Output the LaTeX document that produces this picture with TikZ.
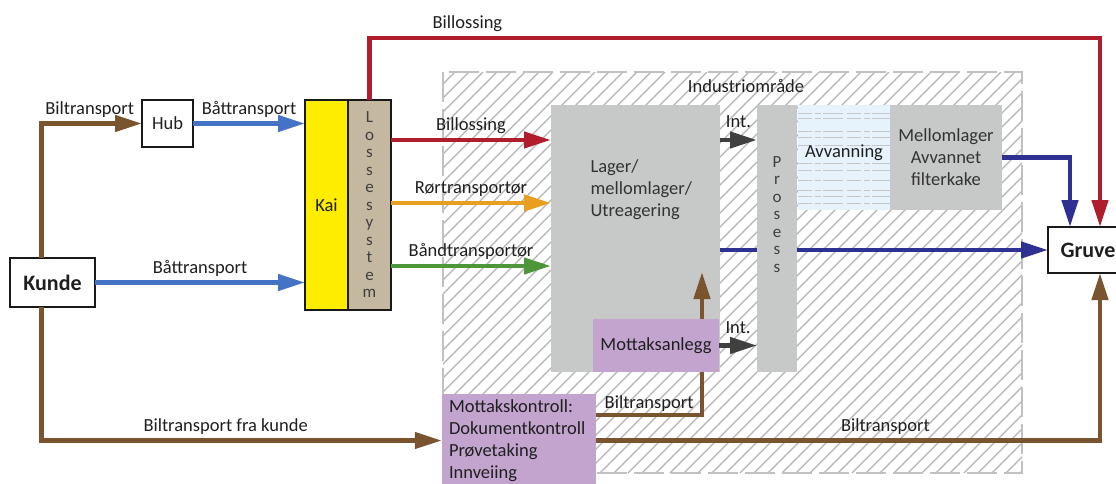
\documentclass[tikz,border=0pt]{standalone}
\usepackage{fontspec}
\setmainfont{Carlito}
\usetikzlibrary{arrows.meta,positioning,calc}
\definecolor{cBrown}{RGB}{122,84,46}
\definecolor{cBlue}{RGB}{68,114,196}
\definecolor{cRed}{RGB}{176,30,45}
\definecolor{cOrange}{RGB}{232,158,30}
\definecolor{cGreen}{RGB}{78,150,58}
\definecolor{cNavy}{RGB}{46,49,146}
\definecolor{cInt}{RGB}{64,64,64}
\definecolor{cGray}{RGB}{199,200,200}
\definecolor{cPurple}{RGB}{195,164,206}
\definecolor{cYellow}{RGB}{255,237,0}
\definecolor{cTan}{RGB}{196,184,160}
\definecolor{cWet}{RGB}{230,243,252}
\definecolor{cHatch}{RGB}{178,178,178}

\begin{document}
\begin{tikzpicture}[x=1pt,y=-1pt,
  txt/.style={font=\fontsize{18.5}{22}\selectfont, text=black!88},
  blk/.style={draw=black!90, line width=2pt, inner sep=0pt, outer sep=0pt, txt},
  grey/.style={fill=cGray, inner sep=0pt, outer sep=0pt},
  stack/.style={align=center, font=\fontsize{17}{17.5}\selectfont, text=black!75},
  flow/.style={line width=4.5pt, -{Triangle[length=27pt,width=16pt]}},
  lbl/.style={txt, inner sep=3pt, text depth=4pt}]
  \useasboundingbox (0,0) rectangle (1116,483);
  % Industriomraade (hatched)
  \begin{scope}
    \clip (443,72) rectangle (1022,473);
    \foreach \x in {40,54,...,1030}{
      \draw[cHatch, line width=1.2pt] (\x,473) -- ++(401,-401);
    }
  \end{scope}
  \draw[cHatch!80, line width=2.5pt, dash pattern=on 30pt off 7pt] (443,72) rectangle (1022,473);
  \node[txt] (indlbl) at (746,86) {Industriområde};

  % boxes
  \node[blk, minimum width=85pt, minimum height=49pt, font=\fontsize{22}{26}\selectfont\bfseries] (kunde) at (52.5,282.5) {Kunde};
  \node[blk, minimum width=51pt, minimum height=47pt] (hub) at (167.5,123.5) {Hub};
  \node[blk, fill=cYellow, minimum width=43pt, minimum height=210pt] (kai) at (326.5,205) {Kai};
  \node[blk, fill=cTan, minimum width=43pt, minimum height=210pt, stack] (losse) at (369.5,205) {L\\o\\s\\s\\e\\s\\y\\s\\t\\e\\m};
  \node[grey, minimum width=169pt, minimum height=267pt] (lager) at (635.5,238.5) {};
  \node[txt, anchor=west, align=left, text=black!80] (lagertxt) at (587,190) {Lager/\\mellomlager/\\Utreagering};
  \node[fill=cPurple, minimum width=154pt, minimum height=93pt, inner sep=0pt, txt, align=left, text width=140pt] (mk) at (519,440.5) {Mottakskontroll:\\Dokumentkontroll\\Prøvetaking\\Innveiing};
  \node[blk, minimum width=80pt, minimum height=46pt, font=\fontsize{22}{26}\selectfont\bfseries] (gruve) at (1088,250) {Gruve};
  \node[fill=cWet, minimum width=92pt, minimum height=105pt, inner sep=0pt] (avv) at (844,157.5) {};
  \foreach \yy in {113,118,131,137,145,163,170,180,190,196,203}{
    \draw[black!22, line width=1pt, dash pattern=on 14pt off 3pt on 6pt off 2pt on 20pt off 4pt] (avv.west |- 0,\yy) -- (avv.east |- 0,\yy);
  }
  \node[txt] (avvtxt) at ([yshift=5pt]avv.center) {Avvanning};
  \node[grey, minimum width=112pt, minimum height=105pt, txt, align=center, text=black!80] (mellom) at (946,157.5) {Mellomlager\\Avvannet\\filterkake};

  % flows from kunde
  \draw[flow, cBrown] ([xshift=-11pt]kunde.north) |- (hub.west) node[lbl, above, pos=0.74] (l1) {Biltransport};
  \draw[flow, cBlue] (hub.east) -- (hub.east -| kai.west) node[lbl, above, midway] (l2) {Båttransport};
  \draw[flow, cBlue] (kunde.east) -- (kunde.east -| kai.west) node[lbl, above, midway] (l3) {Båttransport};
  \draw[flow, cBrown] ([xshift=-11pt]kunde.south) |- (mk.west) node[lbl, above, pos=0.73] (l4) {Biltransport fra kunde};

  % lossesystem to lager / gruve
  \draw[flow, cRed] (losse.north) -- ++(0,-62) -| ([xshift=12pt]gruve.north) node[lbl, above, pos=0.067] (l5) {Billossing};
  \draw[flow, cRed] ([yshift=65pt]losse.east) -- ([yshift=65pt]losse.east -| lager.west) node[lbl, above, midway] (l6) {Billossing};
  \draw[flow, cOrange] ([yshift=2pt]losse.east) -- ([yshift=2pt]losse.east -| lager.west) node[lbl, above, midway] (l7) {Rørtransportør};
  \draw[flow, cGreen] ([yshift=-61pt]losse.east) -- ([yshift=-61pt]losse.east -| lager.west) node[lbl, above, midway] (l8) {Båndtransportør};

  % to gruve
  \draw[flow, cNavy] (lager.east |- gruve.west) -- (gruve.west);
  \draw[flow, cNavy] (mellom.east) -| ([xshift=-18pt]gruve.north);
  \draw[flow, cBrown] (mk.east) -| ([xshift=12pt]gruve.south) node[lbl, above, pos=0.287] (l9) {Biltransport};
  \coordinate (lagerin) at (702,272);
  \draw[flow, cBrown] ([yshift=25.5pt]mk.east) -| (lagerin) node[lbl, above, pos=0.25, yshift=-3pt] (l10) {Biltransport};

  \node[fill=cPurple, minimum width=126pt, minimum height=53pt, inner sep=0pt, txt] (mottak) at (656,345.5) {Mottaksanlegg};
  \node[grey, minimum width=40pt, minimum height=267pt] (prosess) at (777,238.5) {};
  \node[stack] (prosesstxt) at (777,214.5) {P\\r\\o\\s\\e\\s\\s};

  % internal
  \draw[flow, cInt] ([yshift=98.5pt]lager.east) -- ([yshift=98.5pt]lager.east -| prosess.west) node[lbl, above, midway, yshift=3pt] (l11) {Int.};
  \draw[flow, cInt] (mottak.east) -- (mottak.east -| prosess.west) node[lbl, above, midway, yshift=3pt] (l12) {Int.};
\end{tikzpicture}
\end{document}
